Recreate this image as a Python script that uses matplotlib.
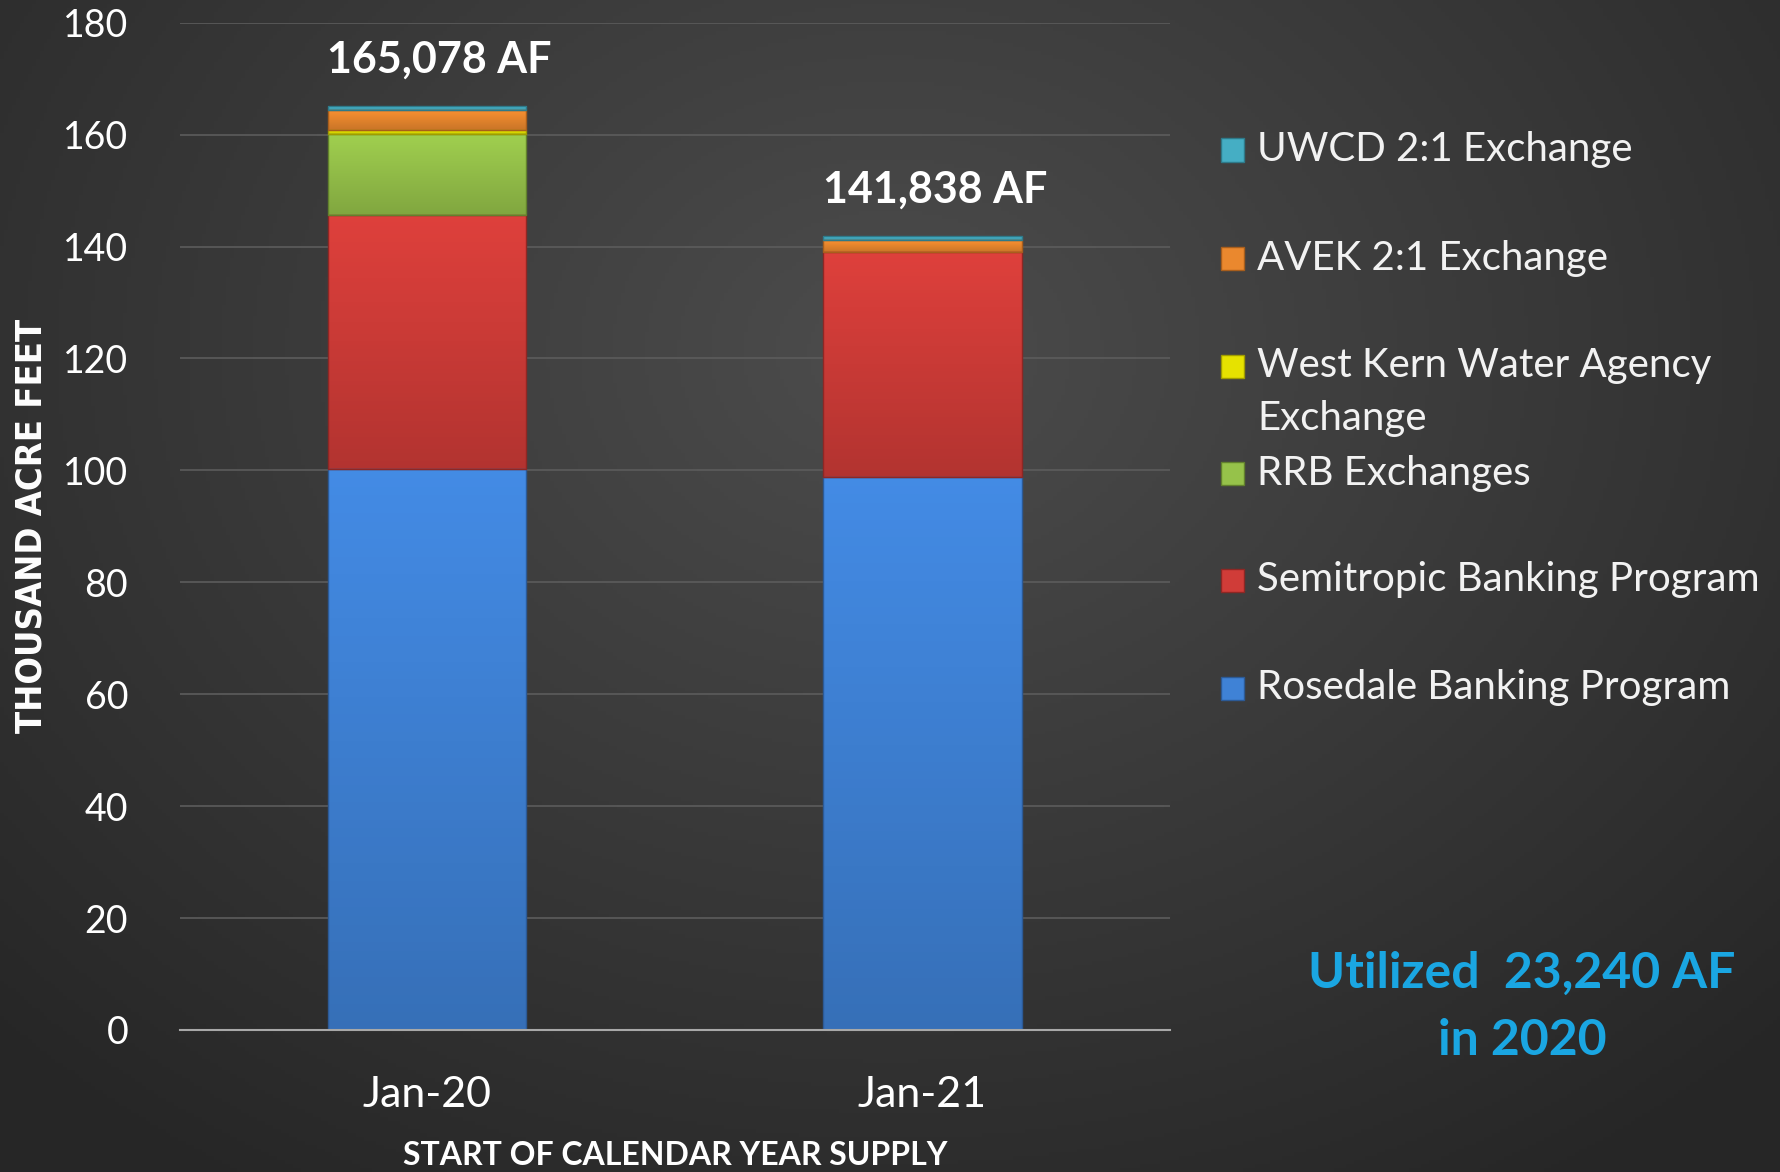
import numpy as np
import matplotlib.pyplot as plt
from matplotlib.patches import Rectangle
from matplotlib.colors import to_rgb

# data (thousand acre feet)
categories = ['Jan-20', 'Jan-21']
series_names = ['Rosedale Banking Program', 'Semitropic Banking Program', 'RRB Exchanges',
                'West Kern Water Agency\nExchange', 'AVEK 2:1 Exchange', 'UWCD 2:1 Exchange']
rosedale = [100.2, 98.8]
semitropic = [45.4, 40.3]
rrb = [14.6, 0.0]
west_kern = [0.6, 0.0]
avek = [3.6, 2.1]
uwcd = [0.68, 0.64]
totals_text = ['165,078 AF', '141,838 AF']
totals = [165.078, 141.838]
yticks = [0, 20, 40, 60, 80, 100, 120, 140, 160, 180]

colors = ['#3f82d6', '#d03c38', '#96c24a', '#e6e200', '#ea882e', '#45aec4']
edges = ['#2c5a96', '#8e2724', '#62812d', '#a09c00', '#a85e1c', '#2e7a8a']

plt.rcParams['font.family'] = ['Lato', 'DejaVu Sans']
fig = plt.figure(figsize=(17.81, 11.72), dpi=100)

# dark radial background
bg = fig.add_axes([0, 0, 1, 1])
yy, xx = np.mgrid[0:1:300j, 0:1:450j]
r = np.sqrt(((xx - 0.5) / 0.75) ** 2 + ((yy - 0.3) / 0.9) ** 2)
shade = np.clip(0.30 - 0.16 * r, 0.15, 0.30)
bg.imshow(np.dstack([shade] * 3), extent=[0, 1, 0, 1], aspect='auto', origin='upper')
bg.axis('off')

ax = fig.add_axes([0.1008, 0.1212, 0.5562, 0.8594])
ax.patch.set_alpha(0)
x = np.arange(len(categories))
stack = [rosedale, semitropic, rrb, west_kern, avek, uwcd]
bottom = np.zeros(len(categories))
grad = np.linspace(1.07, 0.86, 64)[:, None, None]
for vals, c, ec in zip(stack, colors, edges):
    vals = np.array(vals)
    bars = ax.bar(x, vals, 0.40, bottom=bottom, color=c, edgecolor=ec, linewidth=1.0, zorder=3)
    # soft vertical shading inside each segment, outline kept on top
    img = np.clip(np.array(to_rgb(c))[None, None, :] * grad, 0, 1)
    for b in bars:
        if b.get_height() <= 0:
            continue
        im = ax.imshow(img, extent=[b.get_x(), b.get_x() + b.get_width(),
                                    b.get_y(), b.get_y() + b.get_height()],
                       aspect='auto', origin='upper', zorder=3.5)
        im.set_clip_path(b)
        b.set_facecolor('none')
        b.set_zorder(3.6)
    bottom += vals

for xi, t, tot in zip(x, totals_text, totals):
    ax.text(xi + 0.025, tot + 8.4, t, ha='center', va='center', fontsize=31,
            fontweight='bold', color='white')

ax.set_xlim(-0.5, 1.5)
ax.set_ylim(0, 180)
ax.set_yticks(yticks)
ax.set_xticks(x)
ax.set_xticklabels(categories)
ax.tick_params(axis='y', length=0, pad=37, labelsize=27, labelcolor='white')
ax.tick_params(axis='x', length=0, pad=33, labelsize=31, labelcolor='white')
ax.grid(axis='y', color='#5c5c5c', linewidth=1.2, zorder=0)
for s in ['top', 'right', 'left']:
    ax.spines[s].set_visible(False)
ax.spines['bottom'].set_color('#a8a8a8')
ax.spines['bottom'].set_linewidth(1.5)
ax.spines['bottom'].set_zorder(4)

ax.set_ylabel('THOUSAND ACRE FEET', fontsize=26, fontweight='bold', color='white',
              family='DejaVu Sans', fontstretch='condensed')
ax.yaxis.set_label_coords(-0.132, 0.5)
fig.text(0.379, 0.0145, 'START OF CALENDAR YEAR SUPPLY', ha='center', va='center',
         fontsize=23, fontweight='bold', color='white')

# legend, top entry first
legend_y = [150, 258, 366, 473, 580, 688]
for name, c, ec, ly in zip(series_names[::-1], colors[::-1], edges[::-1], legend_y):
    yf = 1 - ly / 1172
    fig.patches.append(Rectangle((1221 / 1781, yf - 11.5 / 1172), 23 / 1781, 23 / 1172,
                                 transform=fig.transFigure, facecolor=c, edgecolor=ec,
                                 linewidth=1))
    for k, line in enumerate(name.split('\n')):
        fig.text(1257 / 1781, yf - k * 53 / 1172, line, ha='left', va='center',
                 fontsize=29, color='#f2f2f2')

fig.text(1522 / 1781, 1 - 1007 / 1172, 'Utilized  23,240 AF\nin 2020', ha='center',
         va='center', fontsize=36, fontweight='bold', color='#1aa6e2', linespacing=1.6)

fig.savefig('out.png', dpi=100)
